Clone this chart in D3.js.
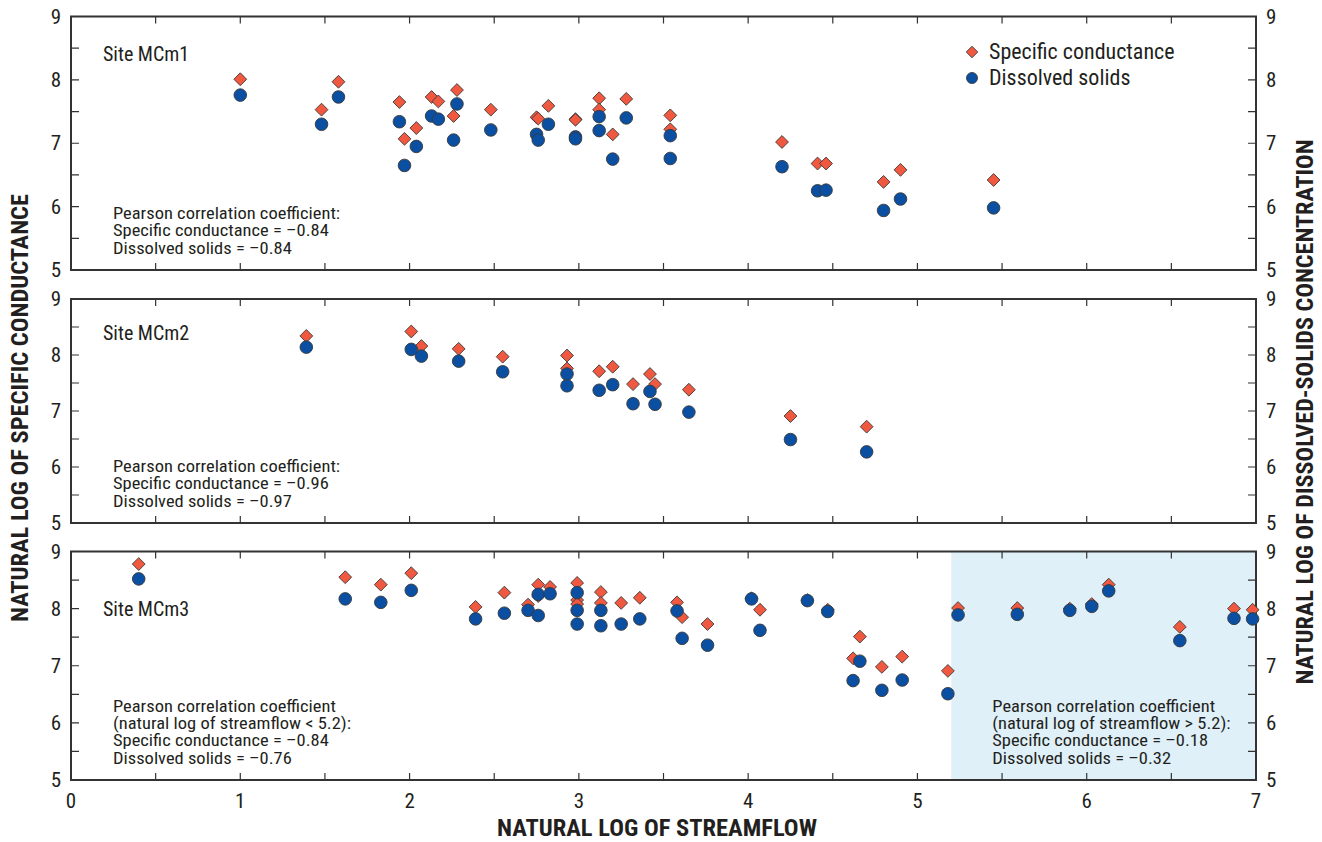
<!DOCTYPE html>
<html>
<head>
<meta charset="utf-8">
<script src="https://cdn.jsdelivr.net/npm/d3@7"></script>
<style>
  body { margin: 0; background: #fff; }
  svg text { font-family: "Liberation Sans Narrow", "Arial Narrow", "Roboto Condensed", sans-serif; fill: #231f20; }
</style>
</head>
<body>
<div id="chart-area"></div>
<script>
// Site MCm1
var mcm1Flow = [1.0, 1.48, 1.58, 1.94, 1.97, 2.04, 2.13, 2.17, 2.26, 2.28, 2.48, 2.75, 2.76, 2.82, 2.98, 2.98,
    3.12, 3.12, 3.2, 3.28, 3.54, 3.54, 4.2, 4.41, 4.46, 4.8, 4.9, 5.45];
var mcm1Sc = [8.01, 7.53, 7.97, 7.65, 7.07, 7.24, 7.73, 7.66, 7.43, 7.84, 7.53, 7.41, 7.39, 7.59, 7.38, 7.37,
    7.71, 7.53, 7.14, 7.70, 7.44, 7.22, 7.02, 6.68, 6.68, 6.39, 6.58, 6.42];
var mcm1Ds = [7.76, 7.30, 7.73, 7.34, 6.65, 6.95, 7.43, 7.38, 7.05, 7.62, 7.21, 7.14, 7.05, 7.30, 7.10, 7.07,
    7.42, 7.20, 6.75, 7.40, 7.12, 6.76, 6.63, 6.25, 6.26, 5.94, 6.12, 5.98];

// Site MCm2
var mcm2Flow = [1.39, 2.01, 2.07, 2.29, 2.55, 2.93, 2.93, 3.12, 3.2, 3.32, 3.42, 3.45, 3.65, 4.25, 4.7];
var mcm2Sc = [8.34, 8.42, 8.16, 8.11, 7.97, 7.99, 7.76, 7.71, 7.79, 7.48, 7.66, 7.48, 7.38, 6.91, 6.72];
var mcm2Ds = [8.14, 8.10, 7.98, 7.89, 7.70, 7.66, 7.45, 7.37, 7.47, 7.13, 7.35, 7.12, 6.98, 6.49, 6.27];

// Site MCm3
var mcm3Flow = [0.4, 1.62, 1.83, 2.01, 2.39, 2.56, 2.7, 2.76, 2.76, 2.83, 2.99, 2.99, 2.99, 3.13, 3.13,
    3.25, 3.36, 3.58, 3.61, 3.76, 4.02, 4.07, 4.35, 4.47, 4.62, 4.66, 4.79, 4.91, 5.18,
    5.24, 5.59, 5.9, 6.03, 6.13, 6.55, 6.87, 6.98];
var mcm3Sc = [8.78, 8.55, 8.42, 8.62, 8.03, 8.28, 8.07, 8.42, 8.22, 8.38, 8.45, 8.15, 8.08, 8.29, 8.10,
    8.10, 8.19, 8.11, 7.85, 7.73, 8.18, 7.98, 8.15, 7.98, 7.13, 7.51, 6.98, 7.16, 6.91,
    8.01, 8.01, 8.00, 8.08, 8.42, 7.68, 8.00, 7.98];
var mcm3Ds = [8.52, 8.17, 8.11, 8.32, 7.82, 7.92, 7.97, 8.25, 7.88, 8.26, 8.28, 7.97, 7.73, 7.97, 7.70,
    7.73, 7.82, 7.96, 7.48, 7.36, 8.17, 7.62, 8.14, 7.95, 6.74, 7.08, 6.57, 6.75, 6.51,
    7.89, 7.90, 7.97, 8.04, 8.31, 7.44, 7.83, 7.82];

var siteNames = ["Site MCm1", "Site MCm2", "Site MCm3"];
var xTicks = [0, 1, 2, 3, 4, 5, 6, 7];
var yTicks = [5, 6, 7, 8, 9];
var splitFlow = 5.2;

var notes = [
    ["Pearson correlation coefficient:", "Specific conductance = \u20130.84", "Dissolved solids = \u20130.84"],
    ["Pearson correlation coefficient:", "Specific conductance = \u20130.96", "Dissolved solids = \u20130.97"],
    ["Pearson correlation coefficient", "(natural log of streamflow < 5.2):", "Specific conductance = \u20130.84", "Dissolved solids = \u20130.76"]
];
var note3b = ["Pearson correlation coefficient", "(natural log of streamflow > 5.2):", "Specific conductance = \u20130.18", "Dissolved solids = \u20130.32"];

var scColor = "#f0583f", dsColor = "#0a4fa1", edge = "#3a3a3a";

var width = 1322, height = 842;
var svg = d3.select("#chart-area").append("svg")
    .attr("width", width)
    .attr("height", height);

var x = d3.scaleLinear().domain([0, 7]).range([71, 1256]);

// panel vertical extents (pixels)
var panels = [
    { top: 16.5, bottom: 270, flow: mcm1Flow, sc: mcm1Sc, ds: mcm1Ds },
    { top: 299, bottom: 523, flow: mcm2Flow, sc: mcm2Sc, ds: mcm2Ds },
    { top: 551.5, bottom: 780, flow: mcm3Flow, sc: mcm3Sc, ds: mcm3Ds }
];

var halfTicks = d3.range(0, 7.01, 0.5);
var halfY = d3.range(5, 9.01, 0.5);
var lineH = 17.5;

// multi-line note, condensed font widened a bit to match the original face
function addNote(g, lines, left, bottom) {
    var top = bottom - (lines.length - 1) * lineH;
    g.append("text")
        .attr("font-size", "16.5px")
        .attr("transform", "translate(" + left + "," + top + ") scale(1.12,1)")
        .selectAll("tspan").data(lines).enter().append("tspan")
        .attr("x", 0)
        .attr("y", function(d, k) { return k * lineH; })
        .text(function(d) { return d; });
}

panels.forEach(function(p, i) {
    var y = d3.scaleLinear().domain([5, 9]).range([p.bottom, p.top]);
    var g = svg.append("g");

    // shaded high-flow region in site MCm3
    if (i == 2) {
        g.append("rect")
            .attr("x", x(splitFlow))
            .attr("y", y(9))
            .attr("width", x(7) - x(splitFlow))
            .attr("height", y(5) - y(9))
            .attr("fill", "#dff0f9");
    }

    // inward ticks on all four sides
    g.selectAll(".tb").data(halfTicks).enter().append("path")
        .attr("d", function(d) {
            return "M" + x(d) + "," + y(9) + "v7M" + x(d) + "," + y(5) + "v-7";
        })
        .attr("stroke", "#333").attr("stroke-width", 1.2);
    g.selectAll(".lr").data(halfY).enter().append("path")
        .attr("d", function(d) {
            return "M" + x(0) + "," + y(d) + "h8M" + x(7) + "," + y(d) + "h-8";
        })
        .attr("stroke", "#333").attr("stroke-width", 1.2);

    g.append("rect")
        .attr("x", x(0)).attr("y", y(9))
        .attr("width", x(7) - x(0)).attr("height", y(5) - y(9))
        .attr("fill", "none").attr("stroke", "#333").attr("stroke-width", 2);

    // tick labels left and right
    g.selectAll(".yl").data(yTicks).enter().append("text")
        .attr("x", x(0) - 10).attr("y", function(d) { return y(d) + 7; })
        .attr("text-anchor", "end").attr("font-size", "21px")
        .text(function(d) { return d; });
    g.selectAll(".yr").data(yTicks).enter().append("text")
        .attr("x", x(7) + 10).attr("y", function(d) { return y(d) + 7; })
        .attr("text-anchor", "start").attr("font-size", "21px")
        .text(function(d) { return d; });

    // site label
    g.append("text")
        .attr("x", x(0) + 32)
        .attr("y", i == 2 ? y(8) + 7 : y(8.5) + 13)
        .attr("font-size", "20px")
        .text(siteNames[i]);

    // correlation notes
    addNote(g, notes[i], x(0) + 42, y(5) - 16);
    if (i == 2) addNote(g, note3b, x(splitFlow) + 41, y(5) - 16);

    var pts = p.flow.map(function(f, k) { return { f: f, sc: p.sc[k], ds: p.ds[k] }; });

    // Specific conductance (diamonds) under dissolved solids (circles)
    g.selectAll(".sc").data(pts).enter().append("path")
        .attr("d", d3.symbol().type(d3.symbolDiamond2).size(105))
        .attr("transform", function(d) { return "translate(" + x(d.f) + "," + y(d.sc) + ")"; })
        .attr("fill", scColor).attr("stroke", edge).attr("stroke-width", 0.9);

    g.selectAll(".ds").data(pts).enter().append("circle")
        .attr("cx", function(d) { return x(d.f); })
        .attr("cy", function(d) { return y(d.ds); })
        .attr("r", 6.3)
        .attr("fill", dsColor).attr("stroke", edge).attr("stroke-width", 0.9);
});

// x tick labels under the bottom panel
svg.selectAll(".xl").data(xTicks).enter().append("text")
    .attr("x", function(d) { return x(d); })
    .attr("y", 808)
    .attr("text-anchor", "middle").attr("font-size", "21px")
    .text(function(d) { return d; });

// Legend
var legend = svg.append("g");
legend.append("path")
    .attr("d", d3.symbol().type(d3.symbolDiamond2).size(85))
    .attr("transform", "translate(972,52)")
    .attr("fill", scColor).attr("stroke", edge).attr("stroke-width", 0.9);
legend.append("circle")
    .attr("cx", 972).attr("cy", 78).attr("r", 5.5)
    .attr("fill", dsColor).attr("stroke", edge).attr("stroke-width", 0.9);
legend.append("text").attr("x", 989).attr("y", 59).attr("font-size", "22px").text("Specific conductance");
legend.append("text").attr("x", 989).attr("y", 85).attr("font-size", "22px").text("Dissolved solids");

// Axis titles
svg.append("text")
    .attr("x", 657).attr("y", 836)
    .attr("text-anchor", "middle")
    .attr("font-size", "23px").attr("font-weight", "bold")
    .attr("textLength", 320).attr("lengthAdjust", "spacingAndGlyphs")
    .text("NATURAL LOG OF STREAMFLOW");

svg.append("text")
    .attr("transform", "translate(28,408) rotate(-90)")
    .attr("text-anchor", "middle")
    .attr("font-size", "23px").attr("font-weight", "bold")
    .attr("textLength", 428).attr("lengthAdjust", "spacingAndGlyphs")
    .text("NATURAL LOG OF SPECIFIC CONDUCTANCE");

svg.append("text")
    .attr("transform", "translate(1313,412) rotate(-90)")
    .attr("text-anchor", "middle")
    .attr("font-size", "23px").attr("font-weight", "bold")
    .attr("textLength", 545).attr("lengthAdjust", "spacingAndGlyphs")
    .text("NATURAL LOG OF DISSOLVED-SOLIDS CONCENTRATION");
</script>
</body>
</html>
